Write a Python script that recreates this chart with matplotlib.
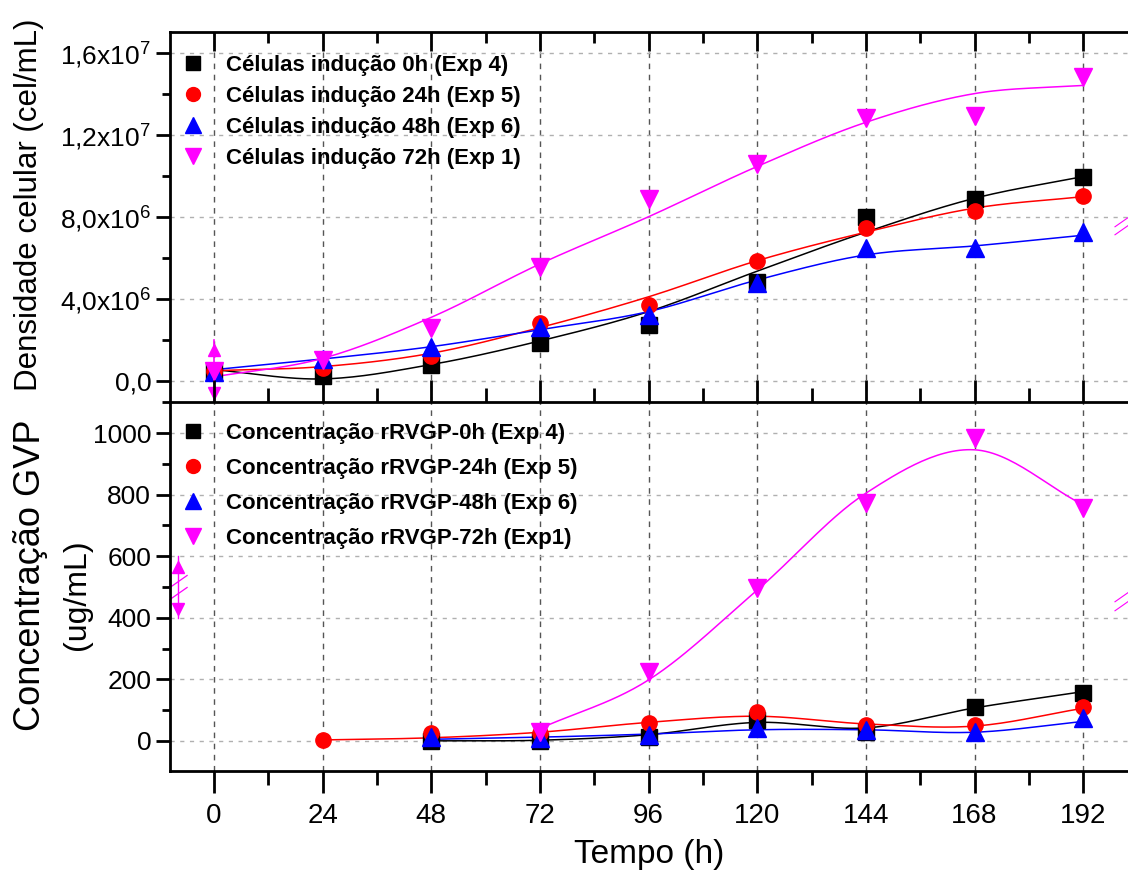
import matplotlib
matplotlib.use("Agg")
import matplotlib.pyplot as plt
from matplotlib.lines import Line2D
from matplotlib.ticker import MultipleLocator, FuncFormatter
import numpy as np

plt.rcParams['font.family'] = ['Liberation Sans', 'DejaVu Sans']
plt.rcParams['mathtext.default'] = 'regular'

# ---- data ----
hours = [0, 24, 48, 72, 96, 120, 144, 168, 192]

# cell density (cel/mL)
cel_0h = [0.5e6, 0.24e6, 0.78e6, 1.87e6, 2.73e6, 4.84e6, 8.0e6, 8.87e6, 9.96e6]
cel_24h = [0.5e6, 0.63e6, 1.22e6, 2.84e6, 3.7e6, 5.85e6, 7.45e6, 8.28e6, 9.0e6]
cel_48h = [0.45e6, 1.07e6, 1.67e6, 2.65e6, 3.2e6, 4.77e6, 6.47e6, 6.47e6, 7.25e6]
cel_72h = [0.5e6, 1.02e6, 2.57e6, 5.57e6, 8.87e6, 10.57e6, 12.8e6, 12.9e6, 14.8e6]

# fitted curve values at each hour
fit_cel_0h = [0.55e6, 0.1e6, 0.8e6, 1.95e6, 3.38e6, 5.35e6, 7.25e6, 8.9e6, 9.96e6]
fit_cel_24h = [0.5e6, 0.7e6, 1.35e6, 2.6e6, 4.1e6, 5.86e6, 7.25e6, 8.42e6, 8.98e6]
fit_cel_48h = [0.55e6, 1.07e6, 1.67e6, 2.5e6, 3.38e6, 4.92e6, 6.14e6, 6.58e6, 7.1e6]
fit_cel_72h = [0.2e6, 1.1e6, 3.1e6, 5.7e6, 8.0e6, 10.45e6, 12.6e6, 14.0e6, 14.4e6]

# rRVGP concentration (ug/mL)
h_gp_0h = [48, 72, 96, 120, 144, 168, 192]
gp_0h = [0, 0, 14, 68, 30, 111, 155]
fit_gp_0h = [0, 2, 20, 60, 42, 107, 160]
h_gp_24h = [24, 48, 72, 96, 120, 144, 168, 192]
gp_24h = [3, 25, 25, 57, 95, 52, 52, 111]
fit_gp_24h = [3, 10, 28, 60, 80, 55, 48, 106]
h_gp_48h = [48, 72, 96, 120, 144, 168, 192]
gp_48h = [14, 10, 20, 41, 36, 30, 74]
fit_gp_48h = [5, 12, 22, 36, 36, 28, 63]
h_gp_72h = [72, 96, 120, 144, 168, 192]
gp_72h = [30, 225, 496, 772, 984, 756]
fit_gp_72h = [40, 198, 490, 805, 946, 767]

cel_labels = ['Células indução 0h (Exp 4)', 'Células indução 24h (Exp 5)',
              'Células indução 48h (Exp 6)', 'Células indução 72h (Exp 1)']
gp_labels = ['Concentração rRVGP-0h (Exp 4)', 'Concentração rRVGP-24h (Exp 5)',
             'Concentração rRVGP-48h (Exp 6)', 'Concentração rRVGP-72h (Exp1)']

colors = ['#000000', '#ff0000', '#0000ff', '#ff00ff']
markers = ['s', 'o', '^', 'v']
msizes = [11, 11, 13, 13]


def smooth(x, y, n=30):
    # Catmull-Rom curve through the read fit values
    x = np.asarray(x, float)
    y = np.asarray(y, float)
    px = np.concatenate([[2 * x[0] - x[1]], x, [2 * x[-1] - x[-2]]])
    py = np.concatenate([[2 * y[0] - y[1]], y, [2 * y[-1] - y[-2]]])
    xs, ys = [], []
    t = np.linspace(0, 1, n)
    for i in range(1, len(px) - 2):
        for p, out in ((px, xs), (py, ys)):
            p0, p1, p2, p3 = p[i - 1], p[i], p[i + 1], p[i + 2]
            out.append(0.5 * (2 * p1 + (-p0 + p2) * t
                              + (2 * p0 - 5 * p1 + 4 * p2 - p3) * t ** 2
                              + (-p0 + 3 * p1 - 3 * p2 + p3) * t ** 3))
    return np.concatenate(xs), np.concatenate(ys)


fig = plt.figure(figsize=(11.28, 8.75), dpi=100)
W, H = 1128, 875
ax1 = fig.add_axes([170 / W, 1 - 401.5 / H, 1 - 170 / W, (401.5 - 32) / H])
ax2 = fig.add_axes([170 / W, 1 - 771 / H, 1 - 170 / W, (771 - 401.5) / H])

for ax in (ax1, ax2):
    ax.set_xlim(-9.7, 201.9)
    ax.xaxis.set_major_locator(MultipleLocator(24))
    ax.xaxis.set_minor_locator(MultipleLocator(12))
    ax.spines['right'].set_visible(False)
    for s in ('left', 'top', 'bottom'):
        ax.spines[s].set_linewidth(2)
    ax.tick_params(axis='y', which='major', direction='out', length=10, width=2, labelsize=19)
    ax.tick_params(axis='y', which='minor', direction='out', length=6, width=2)
    ax.grid(True, axis='y', color='#b0b0b0', linestyle=(0, (3, 4)), linewidth=1)
    ax.grid(True, axis='x', color='#555555', linestyle=(0, (4, 4)), linewidth=1)
    ax.set_axisbelow(True)

# top panel
ax1.set_ylim(-1.0e6, 17.0e6)
ax1.yaxis.set_major_locator(MultipleLocator(4e6))
ax1.yaxis.set_minor_locator(MultipleLocator(2e6))


def sci_fmt(v, pos):
    if v == 0:
        return '0,0'
    e = int(np.floor(np.log10(abs(v))))
    m = v / 10 ** e
    return f'{m:.1f}'.replace('.', ',') + 'x10$^{' + str(e) + '}$'


ax1.yaxis.set_major_formatter(FuncFormatter(sci_fmt))
ax1.tick_params(axis='x', which='both', top=True, bottom=False, labelbottom=False,
                direction='in', width=2)
ax1.tick_params(axis='x', which='major', length=14)
ax1.tick_params(axis='x', which='minor', length=8)
ax1.spines['bottom'].set_visible(False)

cel_series = [cel_0h, cel_24h, cel_48h, cel_72h]
cel_fits = [fit_cel_0h, fit_cel_24h, fit_cel_48h, fit_cel_72h]
for vals, fit, c, m, ms in zip(cel_series, cel_fits, colors, markers, msizes):
    fx, fy = smooth(hours, fit)
    ax1.plot(fx, fy, color=c, lw=1.1, zorder=3)
    ax1.plot(hours, vals, ls='none', marker=m, ms=ms, color=c, zorder=4)

# odd magenta bar at t=0 in the top panel
bar_top = [0, 0]
bar_top_y = [-1.0e6, 2.0e6]
ax1.plot(bar_top, bar_top_y, color='#ff00ff', lw=1.2, zorder=4, clip_on=True)
ax1.plot([0], [1.5e6], marker='^', ms=8, color='#ff00ff', zorder=4)
ax1.plot([0], [-0.6e6], marker='v', ms=8, color='#ff00ff', zorder=4)

# bottom panel
ax2.set_ylim(-98, 1103)
ax2.yaxis.set_major_locator(MultipleLocator(200))
ax2.yaxis.set_minor_locator(MultipleLocator(100))
ax2.tick_params(axis='x', which='both', top=True, bottom=True, width=2,
                labelsize=20, pad=7)
ax2.tick_params(axis='x', which='major', length=16)
ax2.tick_params(axis='x', which='minor', length=10)

gp_series = [(h_gp_0h, gp_0h, fit_gp_0h), (h_gp_24h, gp_24h, fit_gp_24h),
             (h_gp_48h, gp_48h, fit_gp_48h), (h_gp_72h, gp_72h, fit_gp_72h)]
for (hh, vals, fit), c, m, ms in zip(gp_series, colors, markers, msizes):
    fx, fy = smooth(hh, fit)
    ax2.plot(fx, fy, color=c, lw=1.1, zorder=3)
    ax2.plot(hh, vals, ls='none', marker=m, ms=ms, color=c, zorder=4)

# magenta break marks
ax2.plot([-8, -8], [400, 600], color='#ff00ff', lw=1.0, clip_on=False)
ax2.plot([-8], [565], marker='^', ms=8, color='#ff00ff', clip_on=False)
ax2.plot([-8], [430], marker='v', ms=8, color='#ff00ff', clip_on=False)
ax2.plot([-8, -8], [480, 520], ls='none', marker=(2, 0, -55), ms=16,
         mec='#ff00ff', mew=0.9, clip_on=False)
ax1.plot([200.5, 200.5], [7.4e6, 7.8e6], ls='none', marker=(2, 0, -55), ms=14,
         mec='#ff00ff', mew=0.8, clip_on=False)
ax2.plot([200.5, 200.5], [440, 470], ls='none', marker=(2, 0, -55), ms=14,
         mec='#ff00ff', mew=0.8, clip_on=False)

# legends (markers only)
h1 = [Line2D([], [], ls='none', marker=m, ms=ms - 1, color=c)
      for c, m, ms in zip(colors, markers, msizes)]
ax1.legend(h1, cel_labels, loc='upper left', bbox_to_anchor=(0.0124, 0.938),
           frameon=False, borderaxespad=0, borderpad=0, handlelength=1.0,
           handletextpad=1.0, labelspacing=0.45,
           prop={'size': 16, 'weight': 'bold'})
ax2.legend(h1, gp_labels, loc='upper left', bbox_to_anchor=(0.0124, 0.9425),
           frameon=False, borderaxespad=0, borderpad=0, handlelength=1.0,
           handletextpad=1.0, labelspacing=0.63,
           prop={'size': 16, 'weight': 'bold'})

# axis titles placed like the reference
fig.text(29 / W, 1 - 205 / H, 'Densidade celular (cel/mL)', rotation=90,
         ha='center', va='center', fontsize=22.5)
fig.text(31 / W, 1 - 575 / H, 'Concentração GVP', rotation=90,
         ha='center', va='center', fontsize=26)
fig.text(77 / W, 1 - 595 / H, '(ug/mL)', rotation=90,
         ha='center', va='center', fontsize=23)
fig.text(649 / W, 1 - 855 / H, 'Tempo (h)', ha='center', va='center', fontsize=24)

fig.savefig('out.png', dpi=100)
